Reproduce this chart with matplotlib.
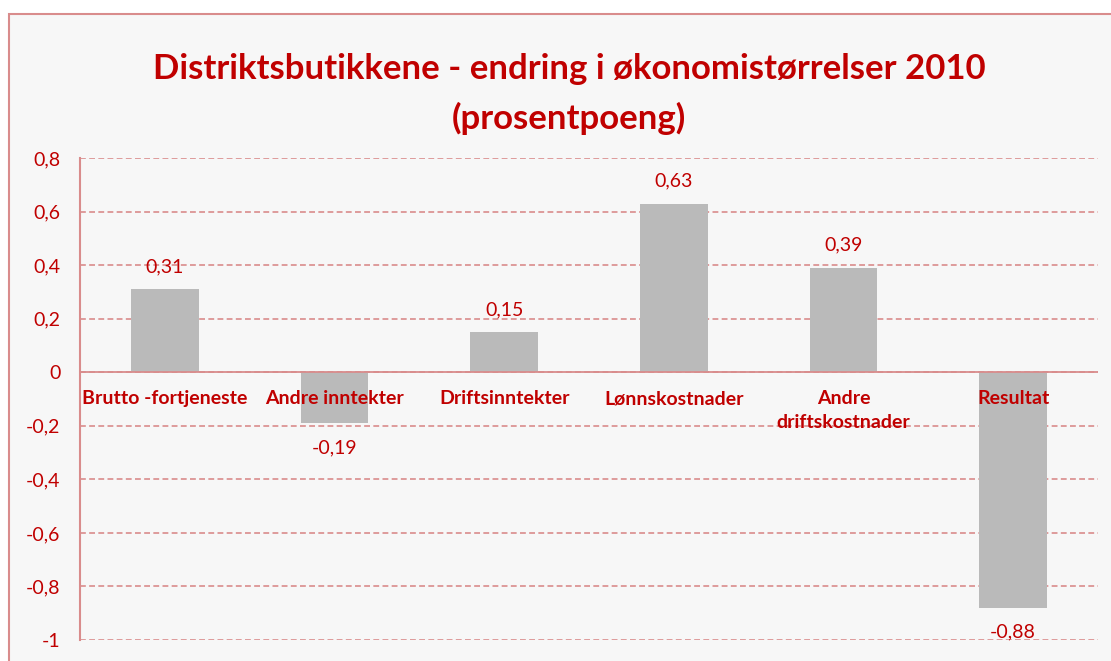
import matplotlib.pyplot as plt
from matplotlib.patches import Rectangle

# Data
kategorier = ["Brutto -fortjeneste", "Andre inntekter", "Driftsinntekter",
              "Lønnskostnader", "Andre\ndriftskostnader", "Resultat"]
verdier = [0.31, -0.19, 0.15, 0.63, 0.39, -0.88]
yticks = [0.8, 0.6, 0.4, 0.2, 0, -0.2, -0.4, -0.6, -0.8, -1]

rod = "#c00000"
linjefarge = "#d98c8c"
plt.rcParams["font.family"] = ["Lato", "DejaVu Sans"]

fig = plt.figure(figsize=(11.11, 6.61), dpi=100)
fig.patch.set_facecolor("white")

# Ramme rundt diagrammet
ramme = Rectangle((9 / 1111, -0.05), 1.1, 1 - 14 / 661 + 0.05, transform=fig.transFigure,
                  facecolor="#f7f7f7", edgecolor=linjefarge, linewidth=1.5, zorder=-10)
fig.patches.append(ramme)

ax = fig.add_axes([80 / 1111, 1 - 640 / 661, 1018 / 1111, 482 / 661])
ax.set_facecolor("none")

x = range(len(verdier))
ax.bar(x, verdier, width=0.4, color="#bababa", zorder=2)
ax.axhline(0, color=linjefarge, linewidth=1.3, zorder=3)

ax.set_xlim(-0.5, len(verdier) - 0.5)
ax.set_ylim(-1, 0.8)
ax.set_yticks(yticks)
ax.set_yticklabels([f"{t:g}".replace(".", ",") for t in yticks], color=rod, fontsize=14)
ax.tick_params(axis="y", length=0, pad=14)
ax.set_xticks([])

ax.grid(axis="y", color=linjefarge, linestyle=(0, (3.5, 2)), linewidth=1.2, zorder=1)
for side in ["top", "right", "bottom"]:
    ax.spines[side].set_visible(False)
ax.spines["left"].set_color(linjefarge)
ax.spines["left"].set_linewidth(1.5)

# Kategorinavn ved nullinjen
for i, navn in enumerate(kategorier):
    ax.annotate(navn, (i, 0), xytext=(0, -18), textcoords="offset pixels",
                ha="center", va="top", fontsize=14, fontweight="bold",
                color=rod, zorder=4, linespacing=1.5)

# Verdietiketter
for i, v in enumerate(verdier):
    off = 14 if v > 0 else -16
    ax.annotate(f"{v:.2f}".replace(".", ","), (i, v), xytext=(0, off),
                textcoords="offset pixels", ha="center",
                va="bottom" if v > 0 else "top", fontsize=14, color=rod, zorder=4)

fig.text(0.512, 1 - 94 / 661,
         "Distriktsbutikkene - endring i økonomistørrelser 2010\n(prosentpoeng)",
         ha="center", va="center", fontsize=25, fontweight="bold", color=rod,
         linespacing=1.62)

fig.savefig("out.png", dpi=100)
